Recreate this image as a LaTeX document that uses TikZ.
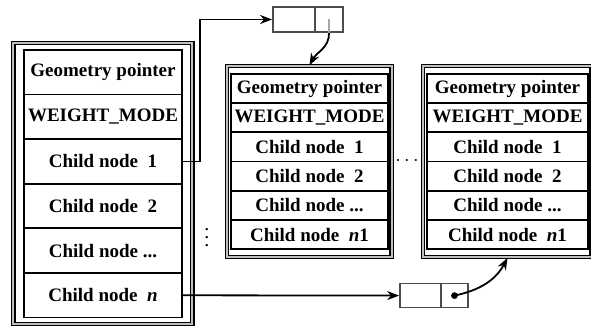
\documentclass[tikz,border=0pt]{standalone}
\usepackage{fontspec}
\setmainfont{Liberation Serif}
\usetikzlibrary{arrows.meta,positioning,fit}
\tikzset{
      arr/.style = {-{Stealth[length=6pt,width=4.5pt]}, line width=0.9pt},   % pointer arrows
    frame/.style = {draw, line width=0.6pt, double=gray!50,
                    double distance=1pt},
     cell/.style = {draw=black!70, line width=0.9pt, inner sep=0pt,
                    fill=white, alias=tmp},
}

\begin{document}
\begin{tikzpicture}[x=0.5pt,y=-0.5pt,
    rect/.style={draw,line width=0.9pt,minimum width=#1,minimum height=14.6pt,
    inner sep=0pt,alias=tmp,font=\fontsize{9.5}{11}\selectfont\bfseries},
    rect/.default=78.5pt,>={Stealth}]
 \useasboundingbox (0,0) rectangle (591,331);
 % parent node
 \path[nodes={rect=79pt,minimum height=22.3pt}]
 (103,72.3) node(l1){Geometry pointer}
 node[below=-\pgflinewidth of tmp](l2){WEIGHT\_MODE}
 node[below=-\pgflinewidth of tmp](l3){Child node\ \ 1}
 node[below=-\pgflinewidth of tmp](l4){Child node\ \ 2}
 node[below=-\pgflinewidth of tmp](l5){Child node ...}
 node[below=-\pgflinewidth of tmp](l6){Child node\ \ \textit{n}};
 \node[frame,fit=(l1)(l6),inner xsep=4.8pt,inner ysep=2.9pt](lf){};
 % first child
 \path[nodes=rect]
 (309.5,88.6) node(m1){Geometry pointer}
 node[below=-\pgflinewidth of tmp](m2){WEIGHT\_MODE}
 node[below=-\pgflinewidth of tmp](m3){Child node\ \ 1}
 node[below=-\pgflinewidth of tmp](m4){Child node\ \ 2}
 node[below=-\pgflinewidth of tmp](m5){Child node ...}
 node[below=-\pgflinewidth of tmp](m6){Child node\ \ \textit{n}1};
 \node[frame,fit=(m1)(m6),inner xsep=1.4pt,inner ysep=3.6pt](mf){};
 % last child
 \path[nodes={rect=80.5pt}]
 (507.5,88.6) node(r1){Geometry pointer}
 node[below=-\pgflinewidth of tmp](r2){WEIGHT\_MODE}
 node[below=-\pgflinewidth of tmp](r3){Child node\ \ 1}
 node[below=-\pgflinewidth of tmp](r4){Child node\ \ 2}
 node[below=-\pgflinewidth of tmp](r5){Child node ...}
 node[below=-\pgflinewidth of tmp](r6){Child node\ \ \textit{n}1};
 \node[frame,fit=(r1)(r6),inner xsep=1.4pt,inner ysep=3.6pt](rf){};
 % pointer cells
 \path[nodes={cell,minimum height=12.5pt}]
 (294,19.5) node[minimum width=21pt](p1){}
 node[minimum width=14pt,right=-\pgflinewidth of tmp](p2){};
 \path[nodes={cell,minimum height=12pt}]
 (420.5,295.6) node[minimum width=20.5pt](q1){}
 node[minimum width=13.5pt,right=-\pgflinewidth of tmp](q2){};
 % dots
 \node(vd) at (207,232) {$\vdots$};
 \node(hd) at (407,161) {$\cdots$};
 % connections
 \draw[arr] (l3.east) -- ++(17,0) |- (p1.west);
 \draw[gray!70,semithick] (p2.center) -- (p2.south);
 \draw[arr] (p2.south) to[out=-88,in=62] (mf.north);
 \draw[arr] (l6.east) -- (q1.west);
 \fill (q2.center) circle (1.7pt);
 \draw[arr] (q2.center) to[out=12,in=-118] (rf.south);
\end{tikzpicture}
\end{document}
